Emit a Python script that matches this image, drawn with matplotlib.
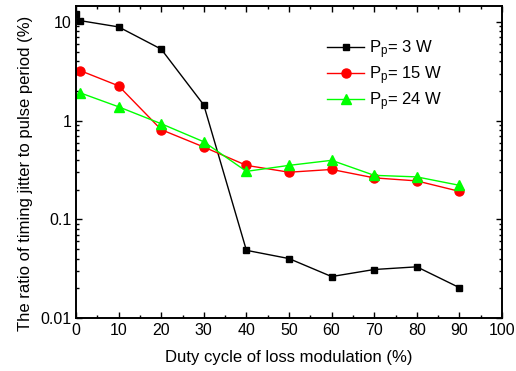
import matplotlib
matplotlib.use("Agg")
import matplotlib.pyplot as plt
from matplotlib.ticker import LogLocator, MultipleLocator, FixedLocator, FixedFormatter, NullFormatter

plt.rcParams['font.family'] = ['Liberation Sans', 'DejaVu Sans']
plt.rcParams['mathtext.fontset'] = 'custom'
plt.rcParams['mathtext.rm'] = 'Liberation Sans'
plt.rcParams['mathtext.it'] = 'Liberation Sans'

x_black = [0, 1, 10, 20, 30, 40, 50, 60, 70, 80, 90]
y_black = [12.0, 10.3, 8.9, 5.3, 1.44, 0.0485, 0.040, 0.0263, 0.031, 0.033, 0.0203]
x_other = [1, 10, 20, 30, 40, 50, 60, 70, 80, 90]
y_red = [3.21, 2.25, 0.81, 0.54, 0.352, 0.30, 0.32, 0.263, 0.245, 0.192]
y_green = [1.91, 1.38, 0.93, 0.61, 0.306, 0.352, 0.396, 0.279, 0.269, 0.221]
labels = ["P$_\\mathrm{p}$= 3 W", "P$_\\mathrm{p}$= 15 W", "P$_\\mathrm{p}$= 24 W"]
x_ticks = [0, 10, 20, 30, 40, 50, 60, 70, 80, 90, 100]
y_ticks = [0.01, 0.1, 1, 10]
y_ticklabels = ["0.01", "0.1", "1", "10"]

fig = plt.figure(figsize=(5.16, 3.71), dpi=100)
ax = fig.add_axes([76/516, 1-318/371, (502-76)/516, (318-6)/371])

ax.plot(x_black, y_black, color='black', lw=1, marker='s', ms=5, label=labels[0])
ax.plot(x_other, y_red, color='#ff0000', lw=1, marker='o', ms=6.5, label=labels[1])
ax.plot(x_other, y_green, color='#00ff00', lw=1, marker='^', ms=6.5, label=labels[2])

ax.set_yscale('log')
ax.set_xlim(0, 100)
ax.set_ylim(0.01, 14.5)
ax.xaxis.set_major_locator(FixedLocator(x_ticks))
ax.xaxis.set_minor_locator(MultipleLocator(5))
ax.yaxis.set_major_locator(FixedLocator(y_ticks))
ax.yaxis.set_major_formatter(FixedFormatter(y_ticklabels))
ax.yaxis.set_minor_locator(LogLocator(base=10, subs=range(2, 10)))
ax.yaxis.set_minor_formatter(NullFormatter())
ax.tick_params(which='both', direction='in', top=True, right=True, labelsize=11.5, width=1)
ax.tick_params(which='major', length=4)
ax.tick_params(which='minor', length=2)
for s in ax.spines.values():
    s.set_linewidth(1.4)

ax.set_xlabel("Duty cycle of loss modulation (%)", fontsize=12, labelpad=9)
ax.set_ylabel("The ratio of timing jitter to pulse period (%)", fontsize=12)
ax.yaxis.set_label_coords(-0.101, 0.465)

leg = ax.legend(loc='upper left', bbox_to_anchor=(0.555, 0.945), frameon=False, fontsize=12,
                handlelength=2.2, labelspacing=0.2, handletextpad=0.3)

fig.savefig("out.png", dpi=100)
